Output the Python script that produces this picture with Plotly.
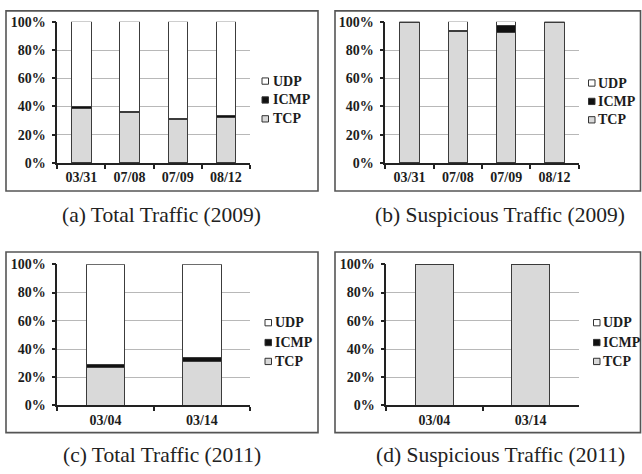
import plotly.graph_objects as go

W, H = 642, 474

# Protocol shares (% of traffic) per capture date
dates_2009 = ["03/31", "07/08", "07/09", "08/12"]
dates_2011 = ["03/04", "03/14"]

total_2009_tcp = [38.9, 35.6, 30.5, 32.4]
total_2009_icmp = [1.4, 1.0, 1.0, 0.9]
total_2009_udp = [59.7, 63.4, 68.5, 66.7]

susp_2009_tcp = [99.5, 93.3, 92.3, 99.3]
susp_2009_icmp = [0.5, 0.8, 5.0, 0.7]
susp_2009_udp = [0.0, 5.9, 2.7, 0.0]

total_2011_tcp = [27.0, 31.0]
total_2011_icmp = [1.9, 3.0]
total_2011_udp = [71.1, 66.0]

susp_2011_tcp = [99.7, 99.7]
susp_2011_icmp = [0.3, 0.3]
susp_2011_udp = [0.0, 0.0]

protocols = ["TCP", "ICMP", "UDP"]
legend_order = ["UDP", "ICMP", "TCP"]
captions = [
    "(a) Total Traffic (2009)",
    "(b) Suspicious Traffic (2009)",
    "(c) Total Traffic (2011)",
    "(d) Suspicious Traffic (2011)",
]
y_tick_vals = [0, 20, 40, 60, 80, 100]
y_tick_text = ["0%", "20%", "40%", "60%", "80%", "100%"]

fills = {"TCP": "#d9d9d9", "ICMP": "#111111", "UDP": "#ffffff"}
outline = "#3c3c3c"
text_col = "#1c1c1c"
serif = '"Liberation Serif", "Times New Roman", Times, serif'


def px_x(v):
    return v / W


def px_y(v):
    return 1 - v / H


panels = [
    dict(cats=dates_2009, data=[total_2009_tcp, total_2009_icmp, total_2009_udp],
         plot=(57.3, 15.3, 250.0, 161.0), box=(6, 4, 318, 190),
         legend=(262, 271, [76.5, 96.0, 115.5]), cap=(161.7, 214.5)),
    dict(cats=dates_2009, data=[susp_2009_tcp, susp_2009_icmp, susp_2009_udp],
         plot=(385.3, 15.3, 578.7, 161.0), box=(335, 4, 640.5, 190),
         legend=(588.5, 596, [78.5, 97.5, 116.5]), cap=(500.0, 214.5)),
    dict(cats=dates_2011, data=[total_2011_tcp, total_2011_icmp, total_2011_udp],
         plot=(57.3, 265.7, 250.0, 411.5), box=(6, 253, 318, 439.5),
         legend=(265, 273, [326.0, 346.5, 366.0]), cap=(161.7, 463.0)),
    dict(cats=dates_2011, data=[susp_2011_tcp, susp_2011_icmp, susp_2011_udp],
         plot=(386.3, 265.7, 578.7, 411.5), box=(335, 253, 640.5, 439.5),
         legend=(593.5, 601, [326.0, 346.5, 366.0]), cap=(500.0, 463.0)),
]

fig = go.Figure()
shapes = []
annotations = []
tick_font = dict(family=serif, size=14, color=text_col, weight=700)

for i, p in enumerate(panels):
    n = "" if i == 0 else str(i + 1)
    xa, ya = "x" + n, "y" + n
    for name, vals in zip(protocols, p["data"]):
        fig.add_trace(go.Bar(
            x=p["cats"], y=vals, name=name, xaxis=xa, yaxis=ya,
            width=0.4, showlegend=False,
            marker=dict(color=fills[name], line=dict(color=outline, width=1)),
        ))
    x0, y0, x1, y1 = p["plot"]
    fig.layout["xaxis" + n] = dict(
        domain=[px_x(x0), px_x(x1)], anchor=ya, type="category",
        showline=True, linecolor="#222222", linewidth=1.5,
        ticks="outside", tickson="boundaries", ticklen=4, tickcolor="#222222",
        tickwidth=1.5, showgrid=False, tickfont=tick_font, ticklabelstandoff=1,
        fixedrange=True,
    )
    fig.layout["yaxis" + n] = dict(
        domain=[px_y(y1), px_y(y0)], anchor=xa, range=[0, 100],
        tickmode="array", tickvals=y_tick_vals, ticktext=y_tick_text,
        showline=True, linecolor="#222222", linewidth=1.5,
        ticks="outside", ticklen=4, tickcolor="#222222", tickwidth=1.5,
        showgrid=True, gridcolor="#b8b8b8", gridwidth=1.2, zeroline=False,
        tickfont=tick_font, ticklabelstandoff=3, fixedrange=True,
    )

    # panel frame
    bx0, by0, bx1, by1 = p["box"]
    shapes.append(dict(type="rect", xref="paper", yref="paper",
                       x0=px_x(bx0), x1=px_x(bx1), y0=px_y(by1), y1=px_y(by0),
                       line=dict(color="#555555", width=1.6), fillcolor="rgba(0,0,0,0)"))

    # legend: swatch + label
    sx, tx, ys = p["legend"]
    for name, yc in zip(legend_order, ys):
        shapes.append(dict(type="rect", xref="paper", yref="paper",
                           x0=px_x(sx), x1=px_x(sx + 6.5),
                           y0=px_y(yc + 3.25), y1=px_y(yc - 3.25),
                           fillcolor=fills[name], line=dict(color="#333333", width=1)))
        annotations.append(dict(xref="paper", yref="paper", x=px_x(tx), y=px_y(yc),
                                xanchor="left", yanchor="middle", showarrow=False,
                                text=name, font=tick_font))

    # caption
    cx, cy = p["cap"]
    annotations.append(dict(xref="paper", yref="paper", x=px_x(cx), y=px_y(cy),
                            xanchor="center", yanchor="middle", showarrow=False,
                            text=captions[i],
                            font=dict(family=serif, size=21.5, color="#222222")))

fig.update_layout(
    width=W, height=H, margin=dict(l=0, r=0, t=0, b=0),
    barmode="stack", bargap=0.6,
    paper_bgcolor="white", plot_bgcolor="white",
    shapes=shapes, annotations=annotations, showlegend=False,
)

fig.write_html("out.html", config=dict(displayModeBar=False))
